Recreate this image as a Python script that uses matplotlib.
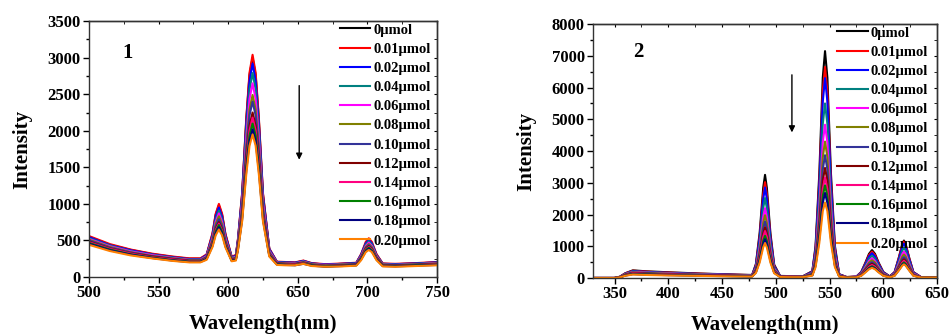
import matplotlib
matplotlib.use("Agg")
import matplotlib.pyplot as plt
from matplotlib.ticker import MultipleLocator

plt.rcParams['font.family'] = ['Liberation Serif', 'DejaVu Serif']
plt.rcParams['font.weight'] = 'bold'

labels = ["0µmol", "0.01µmol", "0.02µmol", "0.04µmol", "0.06µmol", "0.08µmol",
          "0.10µmol", "0.12µmol", "0.14µmol", "0.16µmol", "0.18µmol", "0.20µmol"]
colors = ["#000000", "#ff0000", "#0000ff", "#008080", "#ff00ff", "#808000",
          "#333399", "#800000", "#ff0080", "#008000", "#000080", "#ff8000"]

# ---- panel 1 : wavelength grid (nm) and intensity per concentration
wl1 = [500, 515, 530, 545, 560, 572, 580, 584.5, 588.7, 591, 593.3, 595.6, 598, 602.5, 605.5,
       607, 610, 613, 615.3, 617.5, 619.7, 622, 625, 629.5, 635, 641, 648, 654, 660, 670,
       682, 692, 695.5, 698.8, 701, 703.2, 706.5, 711, 720, 735, 750]
p1_000 = [550, 440, 370, 315, 275, 250, 250, 300, 585, 850, 980, 850, 580, 270, 295, 510, 1135, 2155, 2760, 3000, 2760, 2150, 1125, 385, 205, 200, 195, 220, 185, 170, 180, 190, 305, 460, 510, 460, 305, 180, 175, 185, 200]
p1_001 = [560, 450, 375, 320, 280, 255, 255, 310, 600, 865, 1000, 865, 590, 280, 300, 520, 1150, 2180, 2795, 3040, 2795, 2180, 1140, 390, 210, 205, 200, 225, 190, 175, 185, 195, 315, 480, 530, 480, 315, 185, 180, 190, 205]
p1_002 = [545, 435, 365, 310, 270, 245, 245, 300, 570, 825, 950, 825, 565, 270, 290, 500, 1105, 2095, 2685, 2920, 2685, 2090, 1095, 380, 205, 200, 195, 220, 185, 170, 180, 190, 305, 460, 505, 460, 300, 180, 175, 185, 200]
p1_004 = [530, 430, 355, 305, 265, 240, 240, 290, 550, 790, 910, 790, 545, 265, 280, 485, 1060, 2005, 2565, 2790, 2565, 2000, 1050, 365, 200, 195, 190, 215, 180, 165, 175, 185, 295, 445, 490, 445, 295, 175, 170, 180, 195]
p1_006 = [520, 420, 350, 300, 260, 235, 235, 285, 530, 755, 870, 755, 525, 255, 275, 465, 1010, 1905, 2435, 2650, 2435, 1900, 1000, 355, 195, 190, 185, 210, 175, 165, 170, 180, 285, 425, 470, 425, 285, 170, 165, 175, 190]
p1_008 = [510, 410, 340, 290, 255, 230, 230, 275, 510, 725, 830, 720, 500, 250, 265, 445, 955, 1795, 2290, 2490, 2290, 1790, 945, 340, 190, 185, 180, 205, 175, 160, 170, 175, 275, 410, 450, 410, 275, 170, 160, 175, 185]
p1_010 = [500, 400, 335, 285, 250, 225, 225, 270, 485, 690, 790, 690, 480, 245, 260, 430, 925, 1730, 2210, 2400, 2210, 1725, 915, 330, 185, 180, 180, 200, 170, 155, 165, 175, 270, 395, 435, 395, 265, 165, 160, 170, 180]
p1_012 = [485, 390, 325, 280, 245, 220, 220, 260, 465, 655, 750, 655, 460, 235, 250, 410, 870, 1625, 2070, 2250, 2070, 1620, 860, 315, 185, 180, 175, 195, 165, 150, 160, 170, 260, 385, 420, 385, 260, 160, 155, 165, 180]
p1_014 = [475, 385, 320, 270, 240, 215, 215, 255, 455, 640, 730, 635, 450, 230, 245, 400, 845, 1575, 2005, 2180, 2005, 1570, 835, 310, 180, 175, 170, 190, 160, 150, 155, 165, 255, 375, 410, 375, 250, 155, 150, 160, 175]
p1_016 = [465, 375, 310, 265, 230, 210, 210, 250, 440, 620, 710, 620, 435, 225, 240, 390, 815, 1515, 1935, 2100, 1935, 1515, 805, 300, 175, 170, 165, 185, 160, 145, 155, 160, 250, 365, 400, 365, 245, 155, 150, 160, 170]
p1_018 = [455, 365, 305, 260, 225, 205, 205, 245, 425, 595, 680, 595, 420, 220, 235, 375, 785, 1460, 1860, 2020, 1860, 1455, 780, 290, 170, 165, 160, 180, 155, 140, 150, 160, 240, 350, 385, 350, 240, 150, 145, 155, 165]
p1_020 = [440, 355, 295, 255, 220, 200, 200, 235, 410, 570, 650, 570, 405, 215, 225, 365, 760, 1410, 1795, 1950, 1795, 1405, 755, 280, 165, 160, 160, 180, 150, 140, 145, 155, 230, 340, 370, 340, 230, 145, 140, 150, 160]

# ---- panel 2
wl2 = [330, 350, 355, 360, 367, 380, 400, 430, 460, 478, 481.5, 485, 488.3, 490, 491.7, 495,
       498.5, 504, 512, 525, 534, 537, 540.5, 543.7, 545.8, 548, 551.3, 555, 559, 566, 575, 579.5,
       583.5, 586.7, 589.5, 592.3, 595.5, 600, 606, 610.5, 614.5, 617.7, 619.2, 620.8, 624, 628, 635, 650]
p2_000 = [0, 0, 40, 150, 240, 210, 180, 140, 110, 95, 440, 1425, 2845, 3250, 2840, 1415, 420, 65, 60, 50, 215, 1010, 3300, 6310, 7150, 6310, 3300, 1005, 120, 30, 45, 190, 495, 760, 880, 760, 495, 190, 50, 185, 650, 1070, 1180, 1070, 650, 185, 30, 30]
p2_001 = [0, 0, 40, 145, 230, 200, 170, 135, 105, 90, 410, 1325, 2640, 3020, 2640, 1315, 390, 60, 55, 50, 200, 940, 3070, 5870, 6650, 5870, 3070, 935, 110, 30, 45, 180, 470, 720, 830, 720, 470, 180, 45, 180, 635, 1045, 1150, 1045, 635, 180, 30, 30]
p2_002 = [0, 0, 35, 135, 215, 190, 160, 125, 100, 85, 385, 1250, 2495, 2850, 2490, 1240, 370, 60, 50, 45, 190, 890, 2910, 5560, 6300, 5560, 2910, 885, 105, 25, 40, 170, 440, 675, 780, 675, 440, 170, 45, 170, 595, 980, 1080, 980, 595, 170, 25, 25]
p2_004 = [0, 0, 35, 130, 205, 180, 155, 120, 95, 80, 345, 1105, 2205, 2520, 2200, 1100, 330, 55, 50, 45, 170, 780, 2540, 4855, 5500, 4855, 2540, 775, 95, 25, 35, 150, 395, 605, 700, 605, 395, 150, 40, 150, 525, 865, 950, 865, 525, 150, 25, 25]
p2_006 = [0, 0, 30, 120, 190, 170, 145, 110, 90, 75, 305, 970, 1925, 2200, 1920, 960, 290, 50, 45, 40, 150, 685, 2235, 4265, 4830, 4265, 2230, 685, 85, 25, 35, 135, 350, 535, 620, 535, 350, 135, 35, 135, 460, 755, 830, 755, 460, 135, 25, 25]
p2_008 = [0, 0, 30, 115, 180, 160, 135, 105, 85, 70, 280, 875, 1735, 1980, 1730, 865, 265, 50, 45, 40, 135, 615, 1990, 3800, 4300, 3800, 1990, 610, 75, 25, 30, 125, 320, 485, 560, 485, 320, 125, 35, 120, 410, 675, 740, 675, 410, 120, 25, 25]
p2_010 = [0, 0, 30, 105, 170, 145, 125, 100, 75, 65, 255, 790, 1560, 1780, 1555, 780, 240, 45, 40, 35, 125, 555, 1790, 3415, 3870, 3415, 1790, 550, 70, 20, 30, 110, 285, 435, 500, 435, 285, 110, 30, 105, 365, 600, 660, 600, 365, 105, 20, 20]
p2_012 = [0, 0, 25, 100, 155, 135, 115, 90, 70, 60, 230, 710, 1400, 1600, 1400, 700, 215, 40, 40, 35, 110, 495, 1610, 3065, 3470, 3065, 1605, 495, 65, 20, 25, 100, 255, 390, 450, 390, 255, 100, 30, 95, 325, 535, 590, 535, 325, 95, 20, 20]
p2_014 = [0, 0, 25, 90, 145, 125, 110, 85, 65, 55, 210, 655, 1295, 1480, 1295, 650, 200, 40, 35, 30, 100, 455, 1470, 2800, 3170, 2800, 1465, 450, 60, 20, 25, 90, 235, 355, 410, 355, 235, 90, 25, 90, 300, 490, 540, 490, 300, 90, 20, 20]
p2_016 = [0, 0, 20, 85, 130, 115, 100, 75, 60, 50, 190, 590, 1165, 1330, 1165, 585, 180, 35, 30, 30, 95, 420, 1355, 2580, 2920, 2580, 1350, 415, 55, 15, 25, 80, 210, 320, 370, 320, 210, 80, 25, 80, 270, 445, 490, 445, 270, 80, 15, 15]
p2_018 = [0, 0, 20, 75, 120, 105, 90, 70, 55, 50, 175, 540, 1070, 1220, 1065, 535, 165, 35, 30, 25, 85, 385, 1240, 2365, 2680, 2365, 1240, 380, 50, 15, 20, 75, 195, 295, 340, 295, 195, 75, 20, 75, 250, 410, 450, 410, 250, 75, 15, 15]
p2_020 = [0, 0, 20, 70, 110, 95, 80, 65, 50, 45, 160, 485, 965, 1100, 960, 485, 150, 30, 25, 25, 75, 340, 1105, 2105, 2380, 2105, 1100, 340, 45, 15, 20, 70, 180, 275, 320, 275, 180, 70, 20, 70, 240, 390, 430, 390, 240, 70, 15, 15]

series1 = [p1_000, p1_001, p1_002, p1_004, p1_006, p1_008, p1_010, p1_012, p1_014, p1_016, p1_018, p1_020]
series2 = [p2_000, p2_001, p2_002, p2_004, p2_006, p2_008, p2_010, p2_012, p2_014, p2_016, p2_018, p2_020]


def draw_panel(ax, wl, series, xlim, ylim, xmaj, ymaj, tag, tagpos, arrow, legpos):
    for y, c, lab in zip(series, colors, labels):
        ax.plot(wl, y, color=c, lw=1.5, label=lab)
    ax.set_xlim(*xlim)
    ax.set_ylim(*ylim)
    ax.xaxis.set_major_locator(MultipleLocator(xmaj))
    ax.xaxis.set_minor_locator(MultipleLocator(xmaj / 2))
    ax.yaxis.set_major_locator(MultipleLocator(ymaj))
    ax.yaxis.set_minor_locator(MultipleLocator(ymaj / 2))
    ax.tick_params(which='major', direction='out', length=4, width=1, labelsize=12, pad=2)
    ax.tick_params(which='minor', direction='out', length=2.5, width=1)
    for s in ax.spines.values():
        s.set_color('#333333')
        s.set_linewidth(1)
    # mirrored ticks on top and right, pointing inside
    top = ax.secondary_xaxis('top')
    top.xaxis.set_major_locator(MultipleLocator(xmaj))
    top.xaxis.set_minor_locator(MultipleLocator(xmaj / 2))
    top.tick_params(which='both', direction='in', labeltop=False, length=2.5)
    right = ax.secondary_yaxis('right')
    right.yaxis.set_major_locator(MultipleLocator(ymaj))
    right.yaxis.set_minor_locator(MultipleLocator(ymaj / 2))
    right.tick_params(which='both', direction='in', labelright=False, length=2.5)
    for sa in (top, right):
        for s in sa.spines.values():
            s.set_color('#333333')
            s.set_linewidth(1)
    for t in ax.get_xticklabels() + ax.get_yticklabels():
        t.set_fontweight('bold')
    ax.set_xlabel("Wavelength(nm)", fontsize=15, fontweight='bold', labelpad=9)
    ax.set_ylabel("Intensity", fontsize=15, fontweight='bold', labelpad=11)
    ax.text(tagpos[0], tagpos[1], tag, transform=ax.transAxes, fontsize=15,
            fontweight='bold', ha='center', va='center')
    ax.annotate('', xy=(arrow[0], arrow[2]), xytext=(arrow[0], arrow[1]),
                arrowprops=dict(arrowstyle='-|>', color='black', lw=1, mutation_scale=9))
    ax.legend(loc='upper right', bbox_to_anchor=legpos, frameon=False,
              handlelength=2.1, handletextpad=0.2, labelspacing=0.41, borderpad=0.15,
              borderaxespad=0.0, prop={'weight': 'bold', 'size': 10.5})


fig = plt.figure(figsize=(9.49, 3.34), dpi=100)
ax1 = fig.add_axes([0.0938, 0.1707, 0.3667, 0.766])
ax2 = fig.add_axes([0.6249, 0.1677, 0.3625, 0.760])

draw_panel(ax1, wl1, series1, (500, 750), (0, 3500), 50, 500, "1", (0.112, 0.875),
           (651, 2656, 1566), (0.988, 1.0))
draw_panel(ax2, wl2, series2, (330, 650), (0, 8000), 50, 1000, "2", (0.131, 0.89),
           (515, 6490, 4500), (0.98, 1.0))
ax2.xaxis.set_minor_locator(MultipleLocator(25))

fig.savefig("out.png", dpi=100)
